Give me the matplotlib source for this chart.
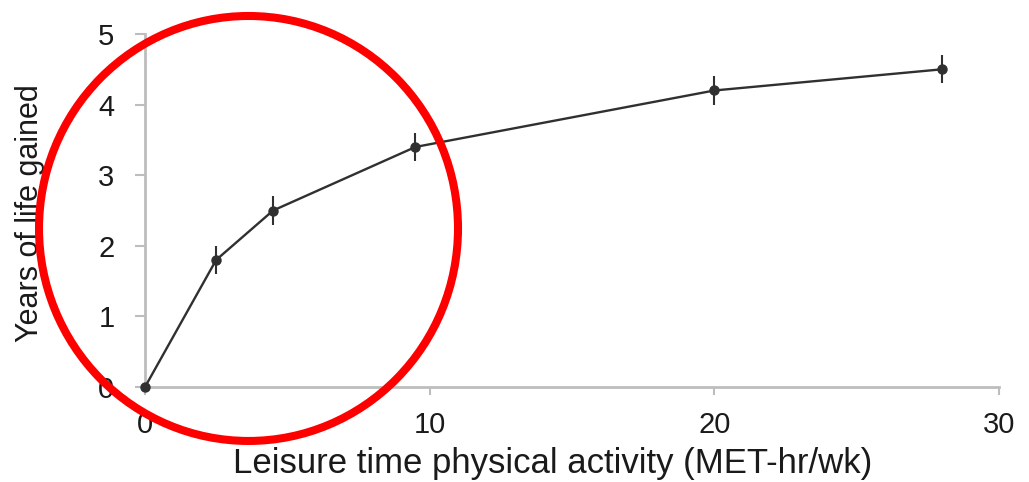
import matplotlib
matplotlib.use("Agg")
import matplotlib.pyplot as plt
from matplotlib.patches import Ellipse

# Data
met_hr_wk = [0, 2.5, 4.5, 9.5, 20, 28]
years_gained = [0, 1.8, 2.5, 3.4, 4.2, 4.5]
error = [0, 0.2, 0.2, 0.2, 0.2, 0.2]
x_ticks = [0, 10, 20, 30]
y_ticks = [0, 1, 2, 3, 4, 5]

plt.rcParams['font.family'] = ['Liberation Sans', 'DejaVu Sans']

W, H = 1029, 482
fig = plt.figure(figsize=(W / 100, H / 100), dpi=100)
x0, x1, y0, y1 = 145, 999, 387, 34
ax = fig.add_axes([x0 / W, 1 - y0 / H, (x1 - x0) / W, (y0 - y1) / H])

text_color = '#1a1a1a'
spine_color = '#bdbdbd'
line_color = '#303030'

ax.errorbar(met_hr_wk, years_gained, yerr=error, color=line_color, lw=1.7,
            marker='o', markersize=6.5, elinewidth=1.5, capsize=0, zorder=3,
            clip_on=False)

ax.set_xlim(0, 30)
ax.set_ylim(0, 5)
ax.set_xticks(x_ticks)
ax.set_yticks(y_ticks)

for s in ['top', 'right']:
    ax.spines[s].set_visible(False)
for s in ['left', 'bottom']:
    ax.spines[s].set_color(spine_color)
    ax.spines[s].set_linewidth(2.0)

ax.tick_params(axis='y', length=7, width=1.5, color=spine_color,
               labelsize=21, labelcolor=text_color, pad=15)
ax.tick_params(axis='x', length=6, width=1.5, color=spine_color,
               labelsize=21, labelcolor=text_color, pad=11)

ax.set_xlabel('Leisure time physical activity (MET-hr/wk)', fontsize=25,
              color=text_color)
ax.xaxis.label.set_va('baseline')
ax.xaxis.set_label_coords((553 - x0) / (x1 - x0), (y0 - 473) / (y0 - y1))

ax.set_ylabel('Years of life gained', fontsize=22, color=text_color)
ax.yaxis.label.set_va('center')
ax.yaxis.set_label_coords((30 - x0) / (x1 - x0), (y0 - 213) / (y0 - y1))

# Red highlight ellipse
ell = Ellipse((0.2415, 0.526), 0.4072, 0.8817, transform=fig.transFigure,
              fill=False, edgecolor='#ff0000', linewidth=5.8, zorder=10)
fig.add_artist(ell)

fig.savefig('out.png', dpi=100)
